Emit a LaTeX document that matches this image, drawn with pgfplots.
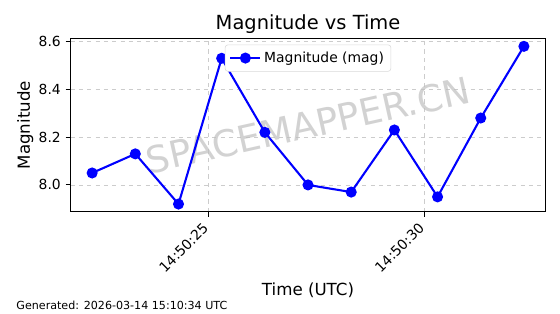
\documentclass[border=0pt]{standalone}
\usepackage{pgfplots}
\pgfplotsset{compat=1.18}
\usepackage{fontspec}
\setmainfont{DejaVu Sans}
\begin{document}
\begin{tikzpicture}
\begin{axis}[
  at={(0,0)}, anchor=south west,
  scale only axis,
  width=342pt, height=124.9pt,
  xmin=21.8, xmax=32.8,
  ymin=7.887, ymax=8.613,
  xtick={25,30},
  xticklabels={14:50:25,14:50:30},
  xticklabel style={rotate=45, anchor=north east, font=\fontsize{10}{12}\selectfont, inner sep=1pt, xshift=-5pt, yshift=2pt},
  ytick={8.0,8.2,8.4,8.6},
  yticklabel style={font=\fontsize{10}{12}\selectfont},
  /pgf/number format/assume math mode=true,
  /pgf/number format/fixed, /pgf/number format/fixed zerofill, /pgf/number format/precision=1,
  tick align=outside, tick pos=left,
  major tick length=3.5pt,
  tick style={black, line width=0.8pt},
  axis line style={line width=0.8pt},
  grid=major,
  grid style={dashed, gray!40, line width=0.6pt},
  title={Magnitude vs Time},
  title style={font=\fontsize{14}{16}\selectfont, yshift=-6pt},
  xlabel={Time (UTC)},
  ylabel={Magnitude},
  xlabel style={font=\fontsize{12}{14}\selectfont, yshift=-2pt},
  ylabel style={font=\fontsize{12}{14}\selectfont, yshift=-3pt},
  legend style={at={(0.5,0.965)}, anchor=north, font=\fontsize{10}{12}\selectfont, draw=gray!30, rounded corners=2pt, inner sep=3pt},
  legend image code/.code={\draw[mark repeat=2,mark phase=2] plot coordinates {(0cm,0cm)(0.38cm,0cm)(0.76cm,0cm)};},
  legend cell align=left,
  clip=false,
]
\node[rotate=12.5, text=gray!50, opacity=0.7, font=\fontsize{26.5}{30}\selectfont] at (rel axis cs:0.5,0.5) {SPACEMAPPER.CN};
\addplot[blue, line width=1.5pt, mark=*, mark size=3.2pt, mark options={fill=blue, draw=blue}] coordinates {
(22.3,8.05) (23.3,8.13) (24.3,7.92) (25.3,8.53) (26.3,8.22) (27.3,8.00)
(28.3,7.97) (29.3,8.23) (30.3,7.95) (31.3,8.28) (32.3,8.58)
};
\addlegendentry{Magnitude (mag)}
\end{axis}
\node[anchor=base west, font=\fontsize{8}{10}\selectfont] at (-42.5pt,-70pt) {Generated: 2026-03-14 15:10:34 UTC};
\path[use as bounding box] (-50.8pt,-73.44pt) rectangle (352.44pt,152.6pt);
\end{tikzpicture}
\end{document}
